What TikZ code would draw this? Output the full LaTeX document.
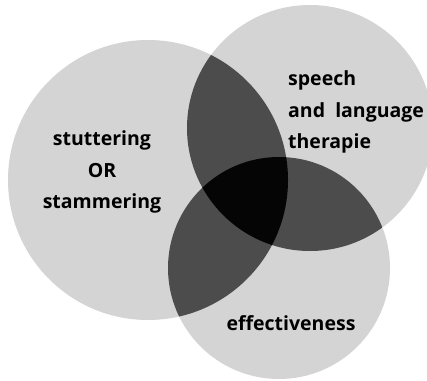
\documentclass[tikz,border=0pt]{standalone}
\usepackage{fontspec}
\setmainfont{Open Sans}
\definecolor{ovone}{gray}{0.83}
\definecolor{ovtwo}{gray}{0.30}
\definecolor{ovthree}{gray}{0.02}
\begin{document}
\begin{tikzpicture}[x=1pt,y=-1pt,
  setcircle/.style={circle, inner sep=0pt, fill=ovone},
  lbl/.style={font=\bfseries\fontsize{19.5}{31.5}\selectfont, inner sep=0pt, text=black}]
\useasboundingbox (0,0) rectangle (427,380);
\clip (0,0) rectangle (427,380);
% three sets
\node[setcircle, minimum size=280pt] (A) at (148,180) {};
\node[setcircle, minimum size=246pt] (B) at (310,128) {};
\node[setcircle, minimum size=222pt] (C) at (279,268) {};
% pairwise overlaps
\begin{scope}
  \clip (A.center) circle[radius=140pt];
  \fill[ovtwo] (B.center) circle[radius=123pt];
  \fill[ovtwo] (C.center) circle[radius=111pt];
\end{scope}
\begin{scope}
  \clip (B.center) circle[radius=123pt];
  \fill[ovtwo] (C.center) circle[radius=111pt];
\end{scope}
% triple overlap
\begin{scope}
  \clip (A.center) circle[radius=140pt];
  \clip (B.center) circle[radius=123pt];
  \fill[ovthree] (C.center) circle[radius=111pt];
\end{scope}
% labels
\node[lbl, align=center] (la) at (102,172) {stuttering\\OR\\stammering};
\node[lbl, align=left, anchor=west] (lb) at (288,112) {speech\\and\ \ language\\therapie};
\node[lbl] (lc) at (291,323) {effectiveness};
\end{tikzpicture}
\end{document}
